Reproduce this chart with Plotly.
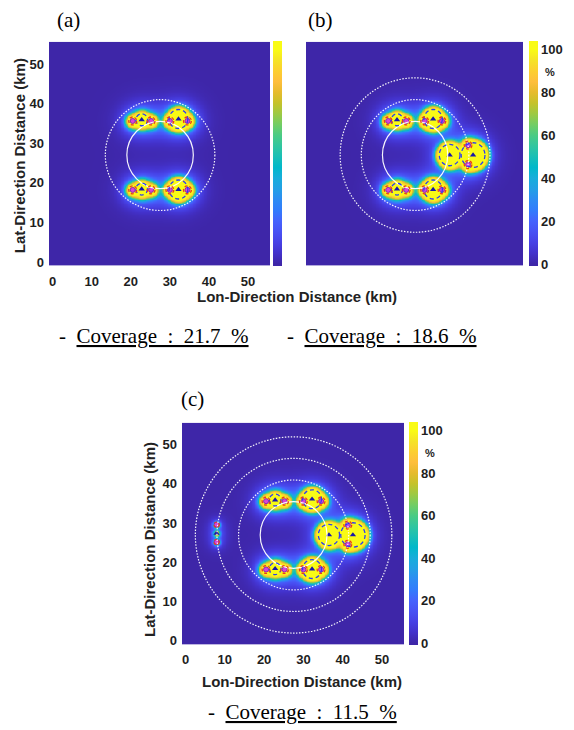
import numpy as np
import plotly.graph_objects as go

# ---------------- data ----------------
TICKS = [0, 10, 20, 30, 40, 50]
CBAR_TICKS = [0, 20, 40, 60, 80, 100]
PANEL_LABELS = ["(a)", "(b)", "(c)"]
COVERAGE = ["21.7", "18.6", "11.5"]

RING_CX = 27.5
RING_CY = 27.0
RING_RADII = [8.5, 14.0, 19.5, 25.0]
RINGS_PER_PANEL = [2, 3, 4]

# upper / lower rows of arrays (triangles = array centres, dots = sensors)
ROW_TRI_X = [22.8, 32.2, 22.8, 32.2]
ROW_TRI_Y = [35.9, 36.1, 18.4, 18.3]
ROW_TRI_R = [1.5, 2.4, 1.5, 2.4]
ROW_SEN_X = [20.5, 25.2, 30.0, 34.5, 20.5, 25.2, 30.0, 34.5]
ROW_SEN_Y = [35.6, 35.6, 35.6, 35.6, 18.2, 18.2, 18.2, 18.2]

# right-hand group (panels b, c)
RIGHT_TRI_X = [36.5, 42.6]
RIGHT_TRI_Y = [27.0, 27.0]
RIGHT_TRI_R = [2.7, 3.1]
RIGHT_SEN_X = [41.3, 41.3]
RIGHT_SEN_Y = [29.5, 24.6]

# far-left small group (panel c)
LEFT_TRI_X = [7.9]
LEFT_TRI_Y = [27.4]
LEFT_SEN_X = [7.9, 7.9]
LEFT_SEN_Y = [29.6, 25.2]

SENSOR_RING_R = 1.0
LEFT_RING_R = 0.7

# MATLAB parula colormap samples
PARULA = [
    (0.2422, 0.1504, 0.6603), (0.2647, 0.1978, 0.7952), (0.2783, 0.2559, 0.8991),
    (0.2810, 0.3228, 0.9579), (0.2699, 0.3892, 0.9906), (0.1963, 0.4847, 0.9892),
    (0.1764, 0.5499, 0.9520), (0.1380, 0.6276, 0.8973), (0.0952, 0.6798, 0.8598),
    (0.0036, 0.7203, 0.7917), (0.0964, 0.7500, 0.7120), (0.1938, 0.7758, 0.6251),
    (0.2906, 0.7973, 0.5188), (0.4456, 0.8024, 0.3909), (0.6174, 0.7876, 0.2612),
    (0.7738, 0.7598, 0.1646), (0.9035, 0.7330, 0.1774), (0.9956, 0.7434, 0.2371),
    (0.9892, 0.8136, 0.1885), (0.9610, 0.8890, 0.1537), (0.9769, 0.9839, 0.0805),
]

# ---------------- helpers ----------------
W, H = 574, 730
ZMIN, ZMAX = -1.0, 104.0


def rgb(c):
    return "rgb(%d,%d,%d)" % tuple(int(round(v * 255)) for v in c)


n = len(PARULA)
cscale = [[0.0, rgb(PARULA[0])]]
for i, c in enumerate(PARULA):
    s = (0 - ZMIN + 100 * i / (n - 1)) / (ZMAX - ZMIN)
    cscale.append([s, rgb(c)])
cscale.append([1.0, rgb(PARULA[-1])])

grid = np.arange(-1.0, 56.01, 0.2)
GX, GY = np.meshgrid(grid, grid)


def coverage_field(sources):
    q = np.ones_like(GX)
    for (x0, y0, r, pk, fall) in sources:
        e = np.clip(np.hypot(GX - x0, GY - y0) - r, 0, None)
        p = pk * (0.72 * np.exp(-(e / fall) ** 2) + 0.28 * np.exp(-e / (1.6 * fall)))
        q *= (1 - p)
    return np.round(100 * (1 - q), 1)


def panel_groups(k):
    tx, ty, tr = list(ROW_TRI_X), list(ROW_TRI_Y), list(ROW_TRI_R)
    sx, sy = list(ROW_SEN_X), list(ROW_SEN_Y)
    src = [(x, y, r + 0.3, 1.0, 1.0) for x, y, r in zip(ROW_TRI_X, ROW_TRI_Y, ROW_TRI_R)]
    src += [(x, y, 1.1, 1.0, 1.0) for x, y in zip(ROW_SEN_X, ROW_SEN_Y)]
    if k >= 1:
        tx += RIGHT_TRI_X; ty += RIGHT_TRI_Y; tr += RIGHT_TRI_R
        sx += RIGHT_SEN_X; sy += RIGHT_SEN_Y
        src += [(x, y, r + 0.4, 1.0, 1.0) for x, y, r in zip(RIGHT_TRI_X, RIGHT_TRI_Y, RIGHT_TRI_R)]
        src += [(x, y, 1.1, 1.0, 1.0) for x, y in zip(RIGHT_SEN_X, RIGHT_SEN_Y)]
    ltx, lty, lsx, lsy = [], [], [], []
    if k >= 2:
        ltx, lty, lsx, lsy = LEFT_TRI_X, LEFT_TRI_Y, LEFT_SEN_X, LEFT_SEN_Y
        src += [(x, y, 0.25, 0.85, 0.65) for x, y in zip(LEFT_TRI_X, LEFT_TRI_Y)]
        src += [(x, y, 0.25, 0.8, 0.65) for x, y in zip(LEFT_SEN_X, LEFT_SEN_Y)]
    return tx, ty, tr, sx, sy, ltx, lty, lsx, lsy, src


# pixel layout of the three panels: (left, right, top, bottom), colorbar left
PANELS = [
    (49, 270, 42, 267, 273),
    (306, 523, 42, 267, 529),
    (182, 404, 425, 648, 409),
]

TICK_FONT = dict(family="Liberation Sans, Arial, sans-serif",
                 size=13, color="#1e1e1e", weight="bold")
TITLE_FONT = dict(family="Liberation Sans, Arial, sans-serif", size=15, color="#222222", weight="bold")
SERIF = dict(family="Liberation Serif, Times New Roman, serif", size=21, color="#000000")

fig = go.Figure()
shapes = []
annotations = []

for k, (l, r, t, b, cbl) in enumerate(PANELS):
    xa = "x" if k == 0 else "x%d" % (k + 1)
    ya = "y" if k == 0 else "y%d" % (k + 1)
    tx, ty, tr, sx, sy, ltx, lty, lsx, lsy, src = panel_groups(k)
    z = coverage_field(src)
    fig.add_trace(go.Heatmap(
        x=grid, y=grid, z=z, xaxis=xa, yaxis=ya, zmin=ZMIN, zmax=ZMAX,
        colorscale=cscale, zsmooth="best", hoverinfo="skip",
        colorbar=dict(
            x=cbl / W, xanchor="left", xpad=0, ypad=0,
            y=1 - (t + b) / 2 / H, yanchor="middle",
            len=b - t, lenmode="pixels", thickness=9, outlinewidth=0,
            tickvals=CBAR_TICKS, ticks="", showticklabels=(k > 0),
            tickfont=TICK_FONT, ticklabelposition="outside",
        ),
    ))
    # rings
    for i, rr in enumerate(RING_RADII[:RINGS_PER_PANEL[k]]):
        shapes.append(dict(type="circle", xref=xa, yref=ya,
                           x0=RING_CX - rr, x1=RING_CX + rr, y0=RING_CY - rr, y1=RING_CY + rr,
                           line=dict(color="rgba(255,255,255,0.95)", width=1.2,
                                     dash="solid" if i == 0 else "1.5px,1.5px")))
    # blue dashed circles around array centres
    for x0, y0, rr in zip(tx, ty, tr):
        shapes.append(dict(type="circle", xref=xa, yref=ya,
                           x0=x0 - rr, x1=x0 + rr, y0=y0 - rr, y1=y0 + rr,
                           line=dict(color="#2c3cf2", width=1.3, dash="4px,3px")))
    # red dashed circles around sensors
    for x0, y0 in zip(sx, sy):
        shapes.append(dict(type="circle", xref=xa, yref=ya,
                           x0=x0 - SENSOR_RING_R, x1=x0 + SENSOR_RING_R,
                           y0=y0 - SENSOR_RING_R, y1=y0 + SENSOR_RING_R,
                           line=dict(color="#ea3a1e", width=1.3, dash="3px,2px")))
    for x0, y0 in zip(lsx, lsy):
        shapes.append(dict(type="circle", xref=xa, yref=ya,
                           x0=x0 - LEFT_RING_R, x1=x0 + LEFT_RING_R,
                           y0=y0 - LEFT_RING_R, y1=y0 + LEFT_RING_R,
                           line=dict(color="#ea3a1e", width=1.2, dash="3px,2px")))
    fig.add_trace(go.Scatter(x=list(sx) + list(lsx), y=list(sy) + list(lsy), xaxis=xa, yaxis=ya,
                             mode="markers", hoverinfo="skip", showlegend=False,
                             marker=dict(symbol="circle", size=5, color="#d845d8",
                                         line=dict(color="#8a2ab0", width=1))))
    fig.add_trace(go.Scatter(x=list(tx) + list(ltx), y=list(ty) + list(lty), xaxis=xa, yaxis=ya,
                             mode="markers", hoverinfo="skip", showlegend=False,
                             marker=dict(symbol="triangle-up", size=5.5, color="#1818a8")))

    show = k != 1
    axis_common = dict(range=[-0.9, 55.6], tickvals=TICKS, ticks="", showgrid=False,
                       zeroline=False, showline=False, tickfont=TICK_FONT,
                       showticklabels=show, fixedrange=True)
    fig.layout[("xaxis" if k == 0 else "xaxis%d" % (k + 1))] = dict(
        domain=[l / W, r / W], anchor=ya, ticklabelstandoff=6, **axis_common)
    fig.layout[("yaxis" if k == 0 else "yaxis%d" % (k + 1))] = dict(
        domain=[1 - b / H, 1 - t / H], anchor=xa, ticklabelstandoff=4, **axis_common)

    # "%" unit under the top colorbar label
    if k > 0:
        annotations.append(dict(x=(cbl + 14) / W, y=1 - (t + 30) / H, xref="paper", yref="paper",
                                xanchor="left", yanchor="middle", showarrow=False,
                                text="%", font=dict(TICK_FONT, size=11)))

# panel letters
for txt, (px, py) in zip(PANEL_LABELS, [(68, 20), (320, 20), (192, 401)]):
    annotations.append(dict(x=px / W, y=1 - py / H, xref="paper", yref="paper", showarrow=False,
                            xanchor="center", yanchor="middle", text=txt, font=SERIF))

# axis titles
for (px, py) in [(297, 298), (302, 685)]:
    annotations.append(dict(x=px / W, y=1 - py / H, xref="paper", yref="paper", showarrow=False,
                            xanchor="center", yanchor="middle",
                            text="Lon-Direction Distance (km)", font=TITLE_FONT))
for (px, py) in [(19, 157), (149, 543)]:
    annotations.append(dict(x=px / W, y=1 - py / H, xref="paper", yref="paper", showarrow=False,
                            xanchor="center", yanchor="middle", textangle=-90,
                            text="Lat-Direction Distance (km)", font=TITLE_FONT))

# coverage captions
NB = "\u00a0"
for cov, (px, py) in zip(COVERAGE, [(154, 338), (382, 338), (302, 716)]):
    txt = "-" + NB * 2 + "<u>Coverage" + NB * 2 + ":" + NB * 2 + cov + NB * 2 + "%</u>"
    annotations.append(dict(x=px / W, y=1 - py / H, xref="paper", yref="paper", showarrow=False,
                            xanchor="center", yanchor="middle", text=txt, font=SERIF))

fig.update_layout(
    width=W, height=H, margin=dict(l=0, r=0, t=0, b=0),
    paper_bgcolor="white", plot_bgcolor="white", showlegend=False,
    shapes=shapes, annotations=annotations,
)

fig.write_html("out.html", config={"displayModeBar": False},
               post_script="document.body.style.margin='0';document.body.style.overflow='hidden';")
